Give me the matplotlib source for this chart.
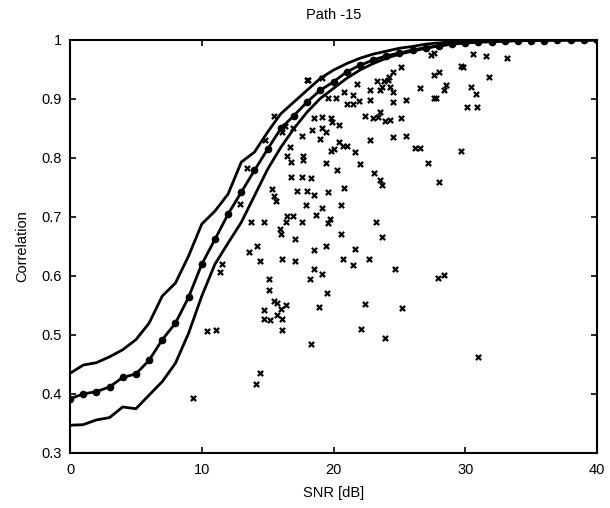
import matplotlib
matplotlib.use("Agg")
import matplotlib.pyplot as plt
import numpy as np

plt.rcParams['font.family'] = ['Liberation Sans', 'DejaVu Sans']

snr = list(range(0, 41))
corr_mid = [0.392, 0.400, 0.404, 0.412, 0.428, 0.434, 0.457, 0.492, 0.520, 0.564,
            0.620, 0.662, 0.705, 0.742, 0.779, 0.815, 0.850, 0.872, 0.895, 0.915,
            0.929, 0.946, 0.957, 0.966, 0.973, 0.978, 0.983, 0.987, 0.990, 0.993,
            0.995, 0.996, 0.997, 0.998, 0.999, 0.999, 0.999, 1.0, 1.0, 1.0, 1.0]
corr_up = [0.435, 0.449, 0.453, 0.463, 0.475, 0.492, 0.520, 0.566, 0.588, 0.634,
           0.688, 0.710, 0.739, 0.793, 0.810, 0.844, 0.875, 0.895, 0.915, 0.935,
           0.949, 0.960, 0.969, 0.976, 0.981, 0.986, 0.989, 0.993, 0.995, 0.997,
           0.998, 0.999, 0.999, 1.0, 1.0, 1.0, 1.0, 1.0, 1.0, 1.0, 1.0]
corr_low = [0.347, 0.348, 0.356, 0.360, 0.378, 0.375, 0.398, 0.421, 0.452, 0.503,
            0.566, 0.620, 0.656, 0.691, 0.736, 0.781, 0.818, 0.850, 0.878, 0.901,
            0.918, 0.935, 0.949, 0.960, 0.969, 0.976, 0.981, 0.986, 0.990, 0.993,
            0.995, 0.997, 0.998, 0.998, 0.999, 0.999, 1.0, 1.0, 1.0, 1.0, 1.0]

scatter_x = [30.6, 31.6, 33.2, 27.4, 27.6, 29.7, 29.8, 25.1, 24.5, 24.2, 31.8, 27.6, 28.0,
             24.1, 23.3, 23.8, 22.8, 23.5, 23.7, 24.3, 24.5, 26.6, 28.5, 28.4, 30.4, 30.8,
             18.0, 19.1, 21.8, 20.8, 21.5, 20.2, 19.6, 21.0, 21.5, 21.9, 22.8, 24.5, 25.5,
             27.6, 27.8, 30.1, 30.9, 22.4, 23.0, 23.5, 23.4, 23.9, 24.3, 25.1, 18.5, 19.1,
             19.8, 19.9, 20.4, 18.4, 19.1, 19.4, 19.0, 17.6, 16.9, 16.1, 22.8, 24.5, 25.5,
             26.2, 26.6, 29.7, 20.4, 20.0, 20.7, 21.0, 21.6, 19.8, 16.7, 16.5, 17.7, 17.7,
             13.4, 16.8, 19.4, 22.0, 20.3, 23.1, 23.5, 23.7, 27.2, 28.0, 16.8, 17.6, 18.3,
             15.3, 15.5, 15.6, 17.2, 18.0, 18.5, 19.6, 20.8, 17.9, 19.1, 20.6, 12.9, 13.7,
             14.7, 16.5, 16.9, 16.4, 15.9, 16.0, 17.6, 18.7, 19.7, 19.6, 23.2, 23.7, 20.6,
             13.6, 14.2, 14.4, 17.1, 16.1, 17.1, 18.5, 19.4, 20.7, 21.6, 21.5, 22.7, 11.5,
             11.4, 15.1, 15.1, 18.2, 18.5, 19.1, 19.5, 24.7, 27.9, 28.4, 15.5, 15.7, 16.4,
             16.0, 14.7, 15.7, 16.1, 14.7, 15.2, 16.1, 18.9, 22.4, 25.2, 10.4, 11.1, 22.1,
             23.9, 18.3, 31.0, 14.4, 14.1, 9.3, 18.1, 15.5, 14.8, 16.3]
scatter_y = [0.977, 0.972, 0.970, 0.974, 0.978, 0.956, 0.955, 0.955, 0.946, 0.938, 0.938, 0.940, 0.945,
             0.932, 0.930, 0.930, 0.915, 0.915, 0.920, 0.920, 0.912, 0.918, 0.923, 0.915, 0.920, 0.909,
             0.932, 0.935, 0.926, 0.912, 0.906, 0.901, 0.901, 0.892, 0.892, 0.896, 0.898, 0.895, 0.898,
             0.901, 0.901, 0.886, 0.886, 0.871, 0.867, 0.878, 0.869, 0.862, 0.864, 0.867, 0.867, 0.869,
             0.867, 0.861, 0.856, 0.847, 0.850, 0.844, 0.832, 0.838, 0.850, 0.844, 0.830, 0.835, 0.837,
             0.817, 0.817, 0.811, 0.827, 0.815, 0.820, 0.821, 0.810, 0.811, 0.818, 0.804, 0.804, 0.796,
             0.783, 0.793, 0.791, 0.790, 0.780, 0.774, 0.762, 0.754, 0.791, 0.759, 0.767, 0.767, 0.766,
             0.747, 0.736, 0.727, 0.744, 0.744, 0.737, 0.743, 0.749, 0.720, 0.716, 0.720, 0.722, 0.691,
             0.691, 0.702, 0.701, 0.692, 0.680, 0.672, 0.691, 0.703, 0.696, 0.689, 0.692, 0.666, 0.671,
             0.641, 0.650, 0.625, 0.662, 0.629, 0.625, 0.644, 0.650, 0.629, 0.645, 0.618, 0.629, 0.621,
             0.606, 0.595, 0.577, 0.595, 0.611, 0.604, 0.571, 0.612, 0.597, 0.601, 0.557, 0.554, 0.550,
             0.544, 0.542, 0.534, 0.527, 0.527, 0.525, 0.509, 0.547, 0.553, 0.546, 0.506, 0.508, 0.510,
             0.495, 0.485, 0.462, 0.435, 0.417, 0.394, 0.932, 0.872, 0.831, 0.855]

x_ticks = [0, 10, 20, 30, 40]
y_ticks = [0.3, 0.4, 0.5, 0.6, 0.7, 0.8, 0.9, 1.0]
y_tick_labels = ['0.3', '0.4', '0.5', '0.6', '0.7', '0.8', '0.9', '1']

fig = plt.figure(figsize=(6.10, 5.08), dpi=100)
ax = fig.add_axes([0.1148, 0.1083, 0.8639, 0.813])

ax.scatter(scatter_x, scatter_y, marker='x', s=14, c='black', linewidths=1.6, zorder=2)
ax.plot(snr, corr_up, color='black', lw=2.0, zorder=3)
ax.plot(snr, corr_low, color='black', lw=2.0, zorder=3)
ax.plot(snr, corr_mid, color='black', lw=2.0, marker='o', markersize=4.5, zorder=4)

ax.set_xlim(0, 40)
ax.set_ylim(0.3, 1.0)
ax.set_xticks(x_ticks)
ax.set_yticks(y_ticks)
ax.set_yticklabels(y_tick_labels)
ax.tick_params(direction='in', top=True, right=True, length=4, width=1.2, labelsize=10.5, colors='black')
ax.tick_params(axis='x', pad=7)
ax.tick_params(axis='y', pad=6)
for sp in ax.spines.values():
    sp.set_linewidth(1.5)

ax.set_title('Path -15', fontsize=10.5, pad=15)
ax.set_xlabel('SNR [dB]', fontsize=10.5, labelpad=7)
ax.set_ylabel('Correlation', fontsize=10.5, labelpad=9)

fig.savefig('out.png', dpi=100)
